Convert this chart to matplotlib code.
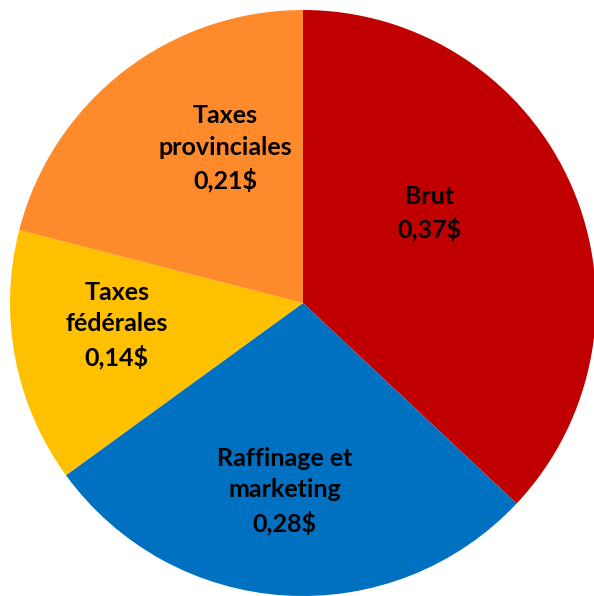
import numpy as np
import matplotlib
matplotlib.use("Agg")
import matplotlib.pyplot as plt

# Composition du prix de l'essence ($ par litre)
categories = ["Brut", "Raffinage et\nmarketing", "Taxes\nfédérales", "Taxes\nprovinciales"]
values = [0.37, 0.28, 0.14, 0.21]

colors = ["#C00000", "#0070C0", "#FFC000", "#FF8A2C"]
# label placement: (radius fraction, angle offset from slice bisector in degrees)
label_place = [(0.53, 11.9), (0.645, -1.9), (0.64, -4.1), (0.59, -11.1)]

fig = plt.figure(figsize=(5.94, 5.96), dpi=100)
ax = fig.add_axes([0, 0, 1, 1])

wedges, _ = ax.pie(values, colors=colors, startangle=90, counterclock=False,
                   radius=1.0, center=(0, 0), wedgeprops=dict(linewidth=0))

for w, cat, val, (r, da) in zip(wedges, categories, values, label_place):
    mid = np.deg2rad((w.theta1 + w.theta2) / 2 + da)
    txt = f"{cat}\n{val:.2f}$".replace(".", ",")
    ax.text(r * np.cos(mid), r * np.sin(mid), txt, ha="center", va="center",
            fontsize=18, fontweight="bold", family="Lato", linespacing=1.45,
            color="black")

ax.set_aspect("auto")
ax.set_xlim(-303 / 293, 291 / 293)
ax.set_ylim(-293 / 293, 303 / 293)
ax.axis("off")

fig.savefig("out.png", dpi=100)
plt.close(fig)
